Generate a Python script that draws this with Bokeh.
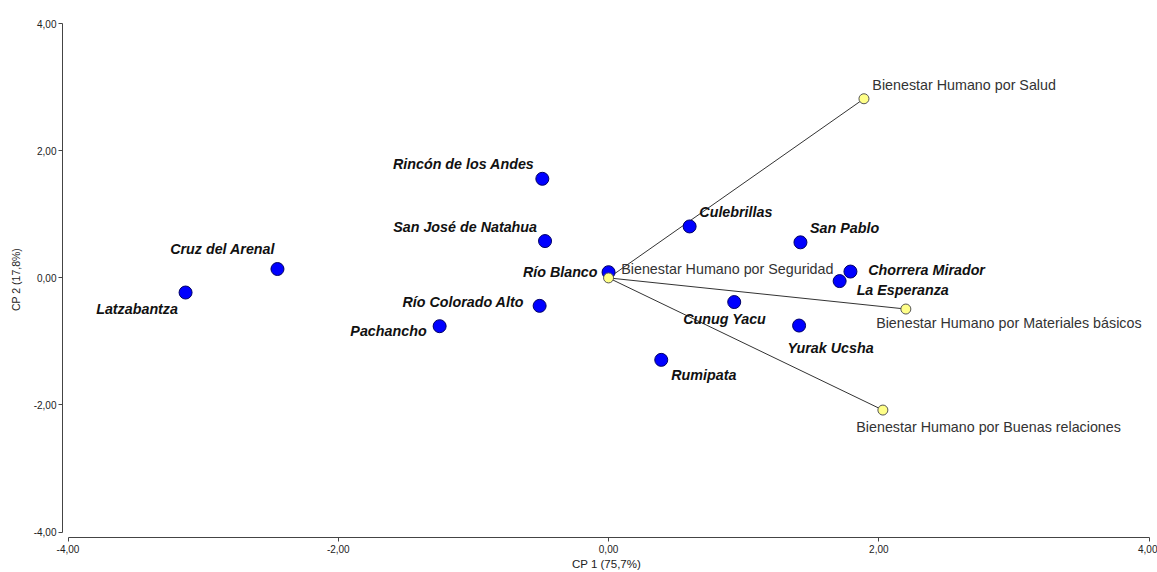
from bokeh.plotting import figure
from bokeh.models import ColumnDataSource, FixedTicker, Range1d
from bokeh.core.properties import value
from bokeh.embed import file_html
from bokeh.resources import INLINE

# ---- data ----
sites = ["Latzabantza", "Cruz del Arenal", "Pachancho", "Río Colorado Alto",
         "San José de Natahua", "Rincón de los Andes", "Río Blanco", "Culebrillas",
         "Rumipata", "Cunug Yacu", "San Pablo", "Yurak Ucsha",
         "Chorrera Mirador", "La Esperanza"]
site_cp1 = [-3.13, -2.45, -1.25, -0.51, -0.47, -0.49, 0.00, 0.60,
            0.39, 0.93, 1.42, 1.41, 1.79, 1.71]
site_cp2 = [-0.23, 0.14, -0.76, -0.44, 0.58, 1.56, 0.09, 0.81,
            -1.29, -0.38, 0.56, -0.75, 0.10, -0.05]

variables = ["Bienestar Humano por Salud", "Bienestar Humano por Seguridad",
             "Bienestar Humano por Materiales básicos",
             "Bienestar Humano por Buenas relaciones"]
var_cp1 = [1.89, 0.00, 2.20, 2.03]
var_cp2 = [2.82, 0.00, -0.49, -2.08]

tick_values = [-4, -2, 0, 2, 4]
tick_labels = ["-4,00", "-2,00", "0,00", "2,00", "4,00"]
x_title = "CP 1 (75,7%)"
y_title = "CP 2 (17,8%)"

# ---- label placement (screen px offsets relative to point) ----
site_align = ["right", "right", "right", "right", "right", "right", "right", "left",
              "left", "left", "left", "left", "left", "left"]
site_dx = [-7.6, -2.4, -13, -15.7, -8, -8, -11, 9.7, 10, -51, 9.6, -11.6, 17.7, 17]
site_dy = [16.7, -20, 5, -4, -14, -15, 0, -14.4, 15, 17, -14.7, 22.6, -1.7, 9]
var_dx = [8.4, 12.7, -29.7, -26.6]
var_dy = [-13.7, -8.7, 14, 17]

FONT = "Liberation Sans"

p = figure(width=1157, height=572, output_backend="svg", toolbar_location=None,
           x_range=Range1d(-4.0407, 4.0104), y_range=Range1d(-4.086, 4.036),
           min_border_left=62, min_border_right=7, min_border_top=21,
           min_border_bottom=32)
p.outline_line_color = None
p.xgrid.visible = False
p.ygrid.visible = False
p.background_fill_color = "white"
p.border_fill_color = "white"

for ax in (p.xaxis[0], p.yaxis[0]):
    ax.ticker = FixedTicker(ticks=tick_values)
    ax.major_label_overrides = {v: l for v, l in zip(tick_values, tick_labels)}
    ax.bounds = (-4, 4)
    ax.minor_tick_line_color = None
    ax.major_tick_in = 0
    ax.major_tick_out = 4
    ax.major_label_text_font = FONT
    ax.major_label_text_font_size = "10px"
    ax.major_label_text_color = "#222222"
    ax.axis_line_color = "#444444"
    ax.major_tick_line_color = "#444444"
    ax.axis_label_text_font = FONT
    ax.axis_label_text_font_style = "normal"
    ax.axis_label_text_color = "#222222"

p.xaxis.axis_label = x_title
p.xaxis.axis_label_text_font_size = "11.5px"
p.xaxis.major_label_standoff = 3
p.xaxis.axis_label_standoff = 2
p.yaxis.axis_label = y_title
p.yaxis.axis_label_text_font_size = "10.5px"
p.yaxis.major_label_standoff = 2
p.yaxis.axis_label_standoff = 9

# vectors
vsrc = ColumnDataSource(dict(x0=[0.0] * len(var_cp1), y0=[0.0] * len(var_cp2),
                             x=var_cp1, y=var_cp2, name=variables,
                             dx=var_dx, dy=var_dy))
p.segment(x0="x0", y0="y0", x1="x", y1="y", source=vsrc,
          line_color="#333333", line_width=1)

ssrc = ColumnDataSource(dict(x=site_cp1, y=site_cp2, name=sites,
                             align=site_align, dx=site_dx, dy=site_dy))
p.scatter(x="x", y="y", source=ssrc, size=13, fill_color="#0000FF",
          line_color="#000066", line_width=1)
p.scatter(x="x", y="y", source=vsrc, size=10, fill_color="#FFFF88",
          line_color="#555555", line_width=1)

p.text(x="x", y="y", text="name", source=ssrc, x_offset="dx", y_offset="dy",
       text_align="align", text_baseline="middle", text_font=value(FONT),
       text_font_size="14.3px", text_font_style="bold italic", text_color="#111111")
p.text(x="x", y="y", text="name", source=vsrc, x_offset="dx", y_offset="dy",
       text_align="left", text_baseline="middle", text_font=value(FONT),
       text_font_size="14.3px", text_color="#333333")

open("out.html", "w").write(file_html(p, INLINE))
